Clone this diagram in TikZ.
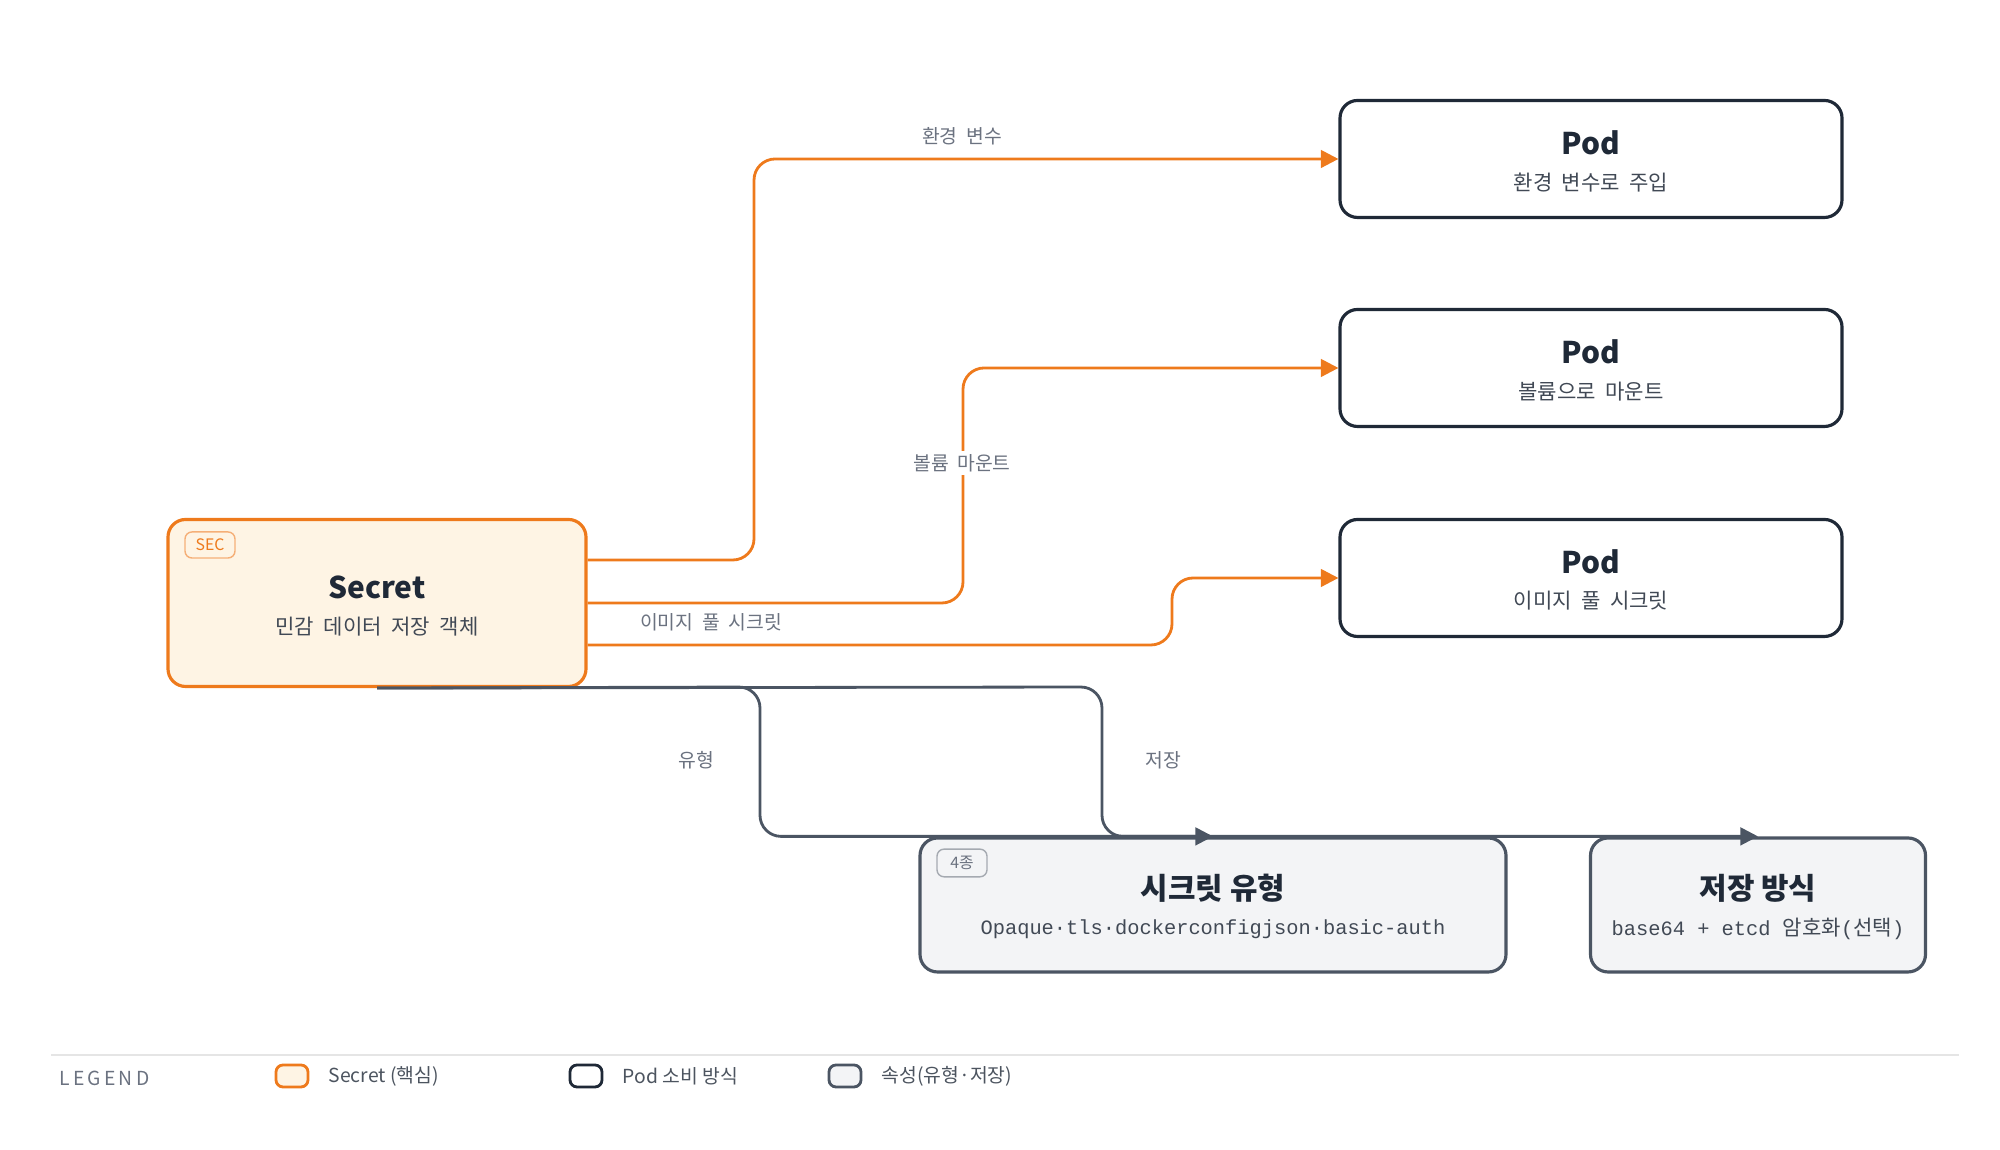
\documentclass[tikz,border=0pt]{standalone}
\usepackage{fontspec}
\setmainfont{Noto Sans CJK KR}
\newfontfamily\monofont{Liberation Mono}
\usetikzlibrary{arrows.meta,positioning}
\definecolor{secorange}{HTML}{EE7A1C}
\definecolor{secfill}{HTML}{FEF4E4}
\definecolor{inkdark}{HTML}{1F2937}
\definecolor{attrfill}{HTML}{F3F4F6}
\definecolor{attrline}{HTML}{4B5563}
\definecolor{labelgray}{HTML}{6B7280}
\tikzset{
  secbox/.style={draw=secorange,fill=secfill,line width=0.9pt,rounded corners=5pt,minimum width=4.18cm,minimum height=1.67cm},
  podbox/.style={draw=inkdark,fill=white,line width=0.9pt,rounded corners=5pt,minimum width=5.02cm,minimum height=1.17cm},
  attrbox/.style={draw=attrline,fill=attrfill,line width=0.9pt,rounded corners=5pt,minimum height=1.34cm},
  tag/.style={draw,rounded corners=2pt,font=\fontsize{4.5}{5}\selectfont,inner sep=2pt,minimum width=0.5cm},
  flow/.style={secorange,line width=0.8pt,rounded corners=6pt,-{Triangle[length=5pt,width=5pt]}},
  attrflow/.style={attrline,line width=0.8pt,rounded corners=6pt,-{Triangle[length=5pt,width=5pt]}},
  lbl/.style={text=labelgray,fill=white,inner sep=1pt,font=\fontsize{5.5}{7}\selectfont},
  title/.style={font=\bfseries\fontsize{8.5}{10}\selectfont,text=inkdark},
  sub/.style={font=\fontsize{6}{7}\selectfont,text=inkdark!85},
  mono/.style={font=\monofont\fontsize{5.8}{7}\selectfont,text=inkdark!85},
  swatch/.style={line width=0.8pt,rounded corners=2pt,minimum width=0.32cm,minimum height=0.22cm,inner sep=0pt}
}
\begin{document}
\begin{tikzpicture}
\useasboundingbox (0,0) rectangle (20,11.5);
% Core object
\node[secbox] (sec) at (3.77,5.47) {};
\node[title] at (3.77,5.63) {Secret};
\node[sub] at (3.77,5.23) {민감 \ 데이터 \ 저장 \ 객체};
\node[tag,draw=secorange!60,text=secorange] at (2.10,6.05) {SEC};
% Consumers
\node[podbox] (env) at (15.91,9.91) {};
\node[title] at (15.91,10.07) {Pod};
\node[sub] at (15.91,9.67) {환경 \ 변수로 \ 주입};
\node[podbox] (vol) at (15.91,7.82) {};
\node[title] at (15.91,7.98) {Pod};
\node[sub] at (15.91,7.58) {볼륨으로 \ 마운트};
\node[podbox] (img) at (15.91,5.72) {};
\node[title] at (15.91,5.88) {Pod};
\node[sub] at (15.91,5.49) {이미지 \ 풀 \ 시크릿};
% Attributes
\node[attrbox,minimum width=5.86cm] (typ) at (12.13,2.45) {};
\node[title] at (12.13,2.62) {시크릿 유형};
\node[mono] at (12.13,2.21) {Opaque·tls·dockerconfigjson·basic-auth};
\node[tag,draw=attrline!50,text=labelgray] at (9.62,2.87) {4종};
\node[attrbox,minimum width=3.35cm] (sto) at (17.58,2.45) {};
\node[title] at (17.58,2.62) {저장 방식};
\node[mono] at (17.58,2.21) {base64 + etcd {\rmfamily\fontsize{6}{7}\selectfont 암호화}({\rmfamily\fontsize{6}{7}\selectfont 선택})};
% Connectors
\draw[flow] (sec.east |- 0,5.90) -| (7.54,9.91) -- (env.west);
\draw[flow] (sec.east |- 0,5.47) -| (9.63,7.82) -- (vol.west);
\draw[flow] (sec.east |- 0,5.05) -| (11.72,5.72) -- (img.west);
\draw[attrflow] (sec.south) -- (7.60,4.63) |- (typ.north);
\draw[attrflow] (sec.south) -- (11.02,4.63) |- (sto.north);
\node[lbl] at (9.62,10.14) {환경 \ 변수};
\node[lbl] at (9.62,6.87) {볼륨 \ 마운트};
\node[lbl] at (7.11,5.28) {이미지 \ 풀 \ 시크릿};
\node[lbl] at (6.96,3.90) {유형};
\node[lbl] at (11.63,3.90) {저장};
% Legend
\draw[black!10,line width=0.6pt] (0.51,0.95) -- (19.59,0.95);
\node[text=labelgray,font=\fontsize{5.5}{7}\selectfont,anchor=west] at (0.47,0.72) {L\,E\,G\,E\,N\,D};
\node[swatch,draw=secorange,fill=secfill] (lsec) at (2.92,0.74) {};
\node[lbl,text=inkdark!80,anchor=west,right=0.15cm of lsec] {Secret (핵심)};
\node[swatch,draw=inkdark,fill=white] (lpod) at (5.86,0.74) {};
\node[lbl,text=inkdark!80,anchor=west,right=0.15cm of lpod] {Pod 소비 방식};
\node[swatch,draw=attrline,fill=attrfill] (lattr) at (8.45,0.74) {};
\node[lbl,text=inkdark!80,anchor=west,right=0.15cm of lattr] {속성(유형·저장)};
\end{tikzpicture}
\end{document}
